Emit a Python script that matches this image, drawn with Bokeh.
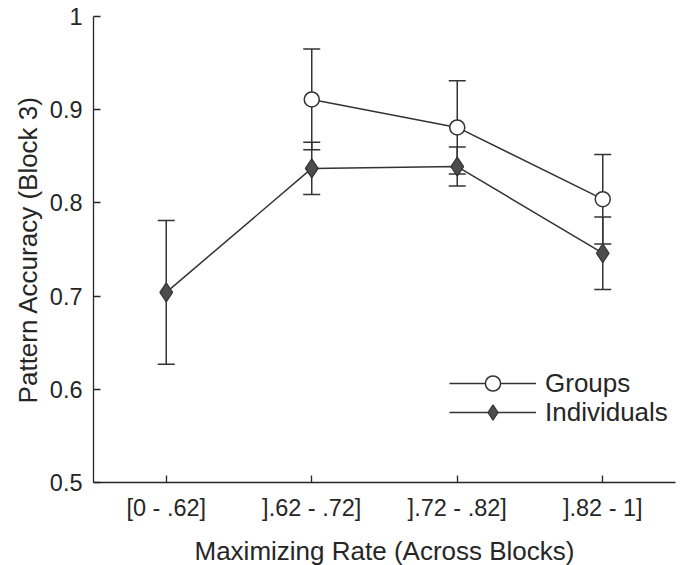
from bokeh.plotting import figure
from bokeh.models import (ColumnDataSource, Whisker, TeeHead, Range1d, FactorRange,
                          FixedTicker, Legend, LegendItem)
from bokeh.embed import file_html
from bokeh.resources import INLINE

categories = ["[0 - .62]", "].62 - .72]", "].72 - .82]", "].82 - 1]"]
groups_cats = ["].62 - .72]", "].72 - .82]", "].82 - 1]"]
groups_mean = [0.911, 0.881, 0.804]
groups_err = [0.054, 0.050, 0.048]
indiv_cats = ["[0 - .62]", "].62 - .72]", "].72 - .82]", "].82 - 1]"]
indiv_mean = [0.704, 0.837, 0.839, 0.746]
indiv_err = [0.077, 0.028, 0.021, 0.039]
y_ticks = [0.5, 0.6, 0.7, 0.8, 0.9, 1.0]

FONT = "Liberation Sans"
TXT = "#262626"
LINE = "#333333"

g_src = ColumnDataSource(dict(x=groups_cats, y=groups_mean,
                              upper=[m + e for m, e in zip(groups_mean, groups_err)],
                              lower=[m - e for m, e in zip(groups_mean, groups_err)]))
i_src = ColumnDataSource(dict(x=indiv_cats, y=indiv_mean,
                              upper=[m + e for m, e in zip(indiv_mean, indiv_err)],
                              lower=[m - e for m, e in zip(indiv_mean, indiv_err)]))

p = figure(x_range=FactorRange(factors=categories, range_padding=0),
           y_range=Range1d(0.5, 1.0),
           frame_width=582, frame_height=466,
           min_border_left=93, min_border_right=10, min_border_top=16, min_border_bottom=83,
           output_backend="svg", toolbar_location=None)
p.outline_line_color = None
p.xgrid.grid_line_color = None
p.ygrid.grid_line_color = None
p.background_fill_color = "white"
p.border_fill_color = "white"

for w_src in (g_src, i_src):
    wk = Whisker(source=w_src, base="x", upper="upper", lower="lower",
                 line_color=LINE, line_width=1.5,
                 upper_head=TeeHead(size=17, line_color=LINE, line_width=1.5),
                 lower_head=TeeHead(size=17, line_color=LINE, line_width=1.5))
    p.add_layout(wk)

gl = p.line("x", "y", source=g_src, line_color=LINE, line_width=1.5)
gm = p.scatter("x", "y", source=g_src, marker="circle", size=15,
               fill_color="white", line_color=LINE, line_width=1.5)
il = p.line("x", "y", source=i_src, line_color=LINE, line_width=1.5)
im = p.scatter("x", "y", source=i_src, marker="diamond", size=19,
               fill_color="#4d4d4d", line_color=LINE, line_width=1.2)

for ax in (p.xaxis[0], p.yaxis[0]):
    ax.axis_line_color = TXT
    ax.axis_line_width = 1.3
    ax.major_tick_line_color = TXT
    ax.major_tick_line_width = 1.3
    ax.major_tick_in = 7
    ax.major_tick_out = 0
    ax.minor_tick_line_color = None
    ax.major_label_text_font = FONT
    ax.major_label_text_font_size = "23.5px"
    ax.major_label_text_color = TXT
    ax.axis_label_text_font = FONT
    ax.axis_label_text_font_size = "26px"
    ax.axis_label_text_font_style = "normal"
    ax.axis_label_text_color = TXT

p.yaxis.ticker = FixedTicker(ticks=y_ticks)
p.yaxis.major_label_overrides = {1.0: "1", 0.5: "0.5"}
p.yaxis.major_label_standoff = 11
p.yaxis.axis_label = "Pattern Accuracy (Block 3)"
p.yaxis.axis_label_standoff = 4
p.xaxis.major_label_standoff = 12
p.xaxis.axis_label = "Maximizing Rate (Across Blocks)"
p.xaxis.axis_label_standoff = 12


def make_legend(label, renderers, loc):
    lg = Legend(items=[LegendItem(label=label, renderers=renderers)],
                location=loc, orientation="vertical")
    lg.glyph_width = 87
    lg.glyph_height = 38
    lg.label_height = 29
    lg.spacing = 0
    lg.padding = 0
    lg.margin = 0
    lg.label_standoff = 9
    lg.border_line_color = None
    lg.background_fill_alpha = 0
    lg.label_text_font = FONT
    lg.label_text_font_size = "26px"
    lg.label_text_color = TXT
    return lg


p.add_layout(make_legend("Groups", [gl, gm], (356, 80)))
p.add_layout(make_legend("Individuals", [il, im], (356, 51)))

open("out.html", "w").write(file_html(p, INLINE))
